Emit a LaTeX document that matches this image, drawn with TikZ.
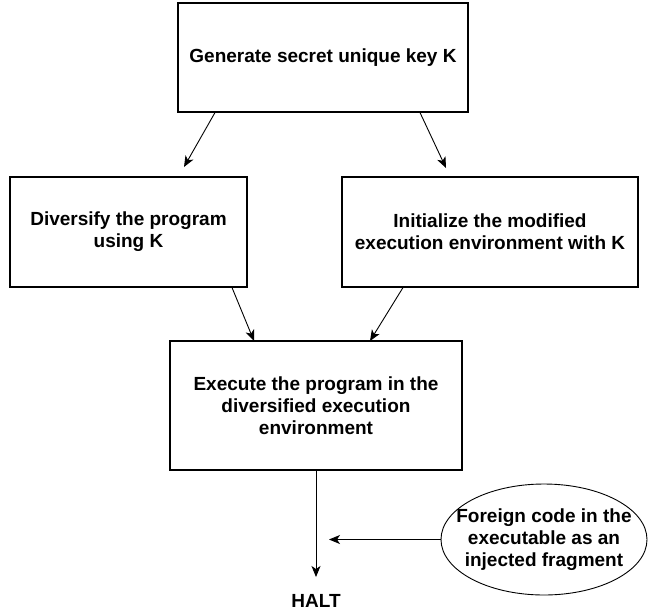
\documentclass[tikz,border=0pt]{standalone}
\usepackage{fontspec}
\setmainfont{Liberation Sans}
\usetikzlibrary{shapes.geometric,arrows.meta}
\begin{document}
\begin{tikzpicture}[x=1pt,y=-1pt,
  txt/.style={font=\fontsize{19}{22}\selectfont\bfseries},
  box/.style={draw,line width=1.1pt,align=center,txt,inner sep=0pt},
  conn/.style={line width=0.9pt,-{Stealth[length=11pt,width=9pt,inset=3pt]}}]
\useasboundingbox[fill=white] (0,0) rectangle (648,614);
\node[box,minimum width=290pt,minimum height=109pt] (key) at (323,57.5) {Generate secret unique key K};
\node[box,minimum width=237pt,minimum height=110pt] (div) at (128.5,232) {Diversify the program\\using K};
\node[box,minimum width=296pt,minimum height=110pt] (init) at (490,232) {Initialize the modified\\execution environment with K};
\node[box,minimum width=292pt,minimum height=129pt] (exec) at (316,405.5) {Execute the program in the\\diversified execution\\environment};
\node[draw,ellipse,line width=0.9pt,minimum width=206pt,minimum height=111pt,inner xsep=-20pt,inner ysep=0pt,align=center,txt] (foreign) at (544,539.5) {Foreign code in the\\executable as an\\injected fragment};
\node[txt] (halt) at (316,601) {HALT};
\coordinate (tip) at (316,577);
\coordinate (mid) at (329,539.5);
\draw[conn] (key.south -| 215,0) -- (184,167);
\draw[conn] (key.south -| 420,0) -- (446,168);
\draw[conn] (div.south -| 232,0) -- (254,341);
\draw[conn] (init.south -| 403,0) -- (370,341);
\draw[conn] (exec.south) -- (tip);
\draw[conn] (foreign.west) -- (mid);
\end{tikzpicture}
\end{document}
